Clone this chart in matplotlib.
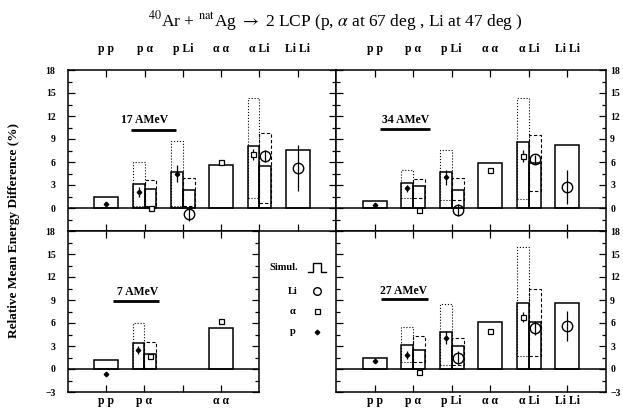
import numpy as np
import matplotlib.pyplot as plt
from matplotlib.ticker import MultipleLocator, FixedLocator

nan = np.nan
plt.rcParams['font.family'] = ['Liberation Serif', 'DejaVu Serif']
plt.rcParams['mathtext.fontset'] = 'stix'

categories = ["p p", "p α", "p Li", "α α", "α Li", "Li Li"]
first_particle = ["p", "p", "p", "α", "α", "Li"]
second_particle = ["p", "α", "Li", "α", "Li", "Li"]
cat_pos = [1, 2, 3, 4, 5, 6]

# ---- 17 AMeV ----
e17_sim_left = [1.47, 3.13, 4.74, 5.60, 8.08, 7.56]
e17_sim_right = [nan, 2.43, 2.35, nan, 5.48, nan]
e17_dot_lo = [nan, 0.2, 0.2, nan, 1.26, nan]
e17_dot_hi = [nan, 5.96, 8.74, nan, 14.4, nan]
e17_dash_lo = [nan, 0.2, 0.2, nan, 0.7, nan]
e17_dash_hi = [nan, 3.65, 3.95, nan, 9.74, nan]
e17_exp_left = [0.5, 2.1, 4.5, 5.96, 7.0, 5.17]
e17_err_left = [0.3, 0.6, 1.1, 0.2, 0.7, 3.0]
e17_exp_right = [nan, 0.0, -0.8, nan, 6.78, nan]
e17_err_right = [nan, 0.2, 0.9, nan, 0.8, nan]

# ---- 34 AMeV ----
e34_sim_left = [0.96, 3.22, 4.74, 5.90, 8.56, 8.20]
e34_sim_right = [nan, 2.87, 2.35, nan, 5.90, nan]
e34_dot_lo = [nan, 1.35, 1.04, nan, 1.13, nan]
e34_dot_hi = [nan, 4.96, 7.56, nan, 14.4, nan]
e34_dash_lo = [nan, 1.35, 1.04, nan, 2.2, nan]
e34_dash_hi = [nan, 3.74, 3.95, nan, 9.5, nan]
e34_exp_left = [0.4, 2.56, 4.0, 4.96, 6.78, 2.7]
e34_err_left = [0.3, 0.5, 1.0, 0.2, 0.8, 2.2]
e34_exp_right = [nan, -0.2, -0.26, nan, 6.35, nan]
e34_err_right = [nan, 0.2, 0.8, nan, 0.6, nan]

# ---- 7 AMeV ----
e7_sim_left = [1.2, 3.37, nan, 5.3, nan, nan]
e7_sim_right = [nan, 1.94, nan, nan, nan, nan]
e7_dot_lo = [nan, 0.1, nan, nan, nan, nan]
e7_dot_hi = [nan, 6.05, nan, nan, nan, nan]
e7_dash_lo = [nan, 0.1, nan, nan, nan, nan]
e7_dash_hi = [nan, 3.54, nan, nan, nan, nan]
e7_exp_left = [-0.65, 2.46, nan, 6.26, nan, nan]
e7_err_left = [0.3, 0.5, nan, 0.2, nan, nan]
e7_exp_right = [nan, 1.64, nan, nan, nan, nan]
e7_err_right = [nan, 0.3, nan, nan, nan, nan]

# ---- 27 AMeV ----
e27_sim_left = [1.42, 3.1, 4.88, 6.13, 8.63, 8.63]
e27_sim_right = [nan, 2.46, 2.94, nan, 6.18, nan]
e27_dot_lo = [nan, 0.86, 0.56, nan, 1.65, nan]
e27_dot_hi = [nan, 5.5, 8.5, nan, 15.85, nan]
e27_dash_lo = [nan, 0.86, 0.56, nan, 1.65, nan]
e27_dash_hi = [nan, 4.3, 4.1, nan, 10.45, nan]
e27_exp_left = [1.08, 1.8, 4.1, 4.96, 6.78, 5.6]
e27_err_left = [0.3, 0.5, 0.8, 0.2, 0.6, 2.0]
e27_exp_right = [nan, -0.43, 1.5, nan, 5.3, nan]
e27_err_right = [nan, 0.2, 0.9, nan, 0.9, nan]

energy_labels = ["17 AMeV", "34 AMeV", "7 AMeV", "27 AMeV"]

marker_style = {
    "p": dict(marker='D', ms=2.3, mfc='black', mec='black'),
    "α": dict(marker='s', ms=3.6, mfc='white', mec='black', mew=0.9),
    "Li": dict(marker='o', ms=7.5, mfc='none', mec='black', mew=1.0),
}

fig = plt.figure(figsize=(6.23, 4.08), dpi=100)
W, H = 623.0, 408.0


def add_ax(x0, y0, x1, y1):
    return fig.add_axes([x0 / W, 1 - y1 / H, (x1 - x0) / W, (y1 - y0) / H])


ax_tl = add_ax(68, 70, 336, 231)
ax_tr = add_ax(336, 70, 606, 231)
ax_bl = add_ax(68, 231, 259, 392)
ax_br = add_ax(336, 231, 606, 392)


def draw_panel(ax, xmax, sim_l, sim_r, dlo, dhi, shlo, shhi, exl, erl, exr, err):
    w = 0.31
    for i, c in enumerate(cat_pos):
        if c > xmax - 0.5:
            continue
        single = first_particle[i] == second_particle[i]
        if single:
            if not np.isnan(sim_l[i]):
                ax.bar(c, sim_l[i], width=2 * w, align='center', fill=False,
                       edgecolor='black', linewidth=1.1, zorder=3)
                ax.errorbar(c, exl[i], yerr=erl[i], color='black', lw=0.9,
                            ls='none', capsize=0, zorder=5, **marker_style[first_particle[i]])
        else:
            if np.isnan(sim_l[i]):
                continue
            ax.bar(c - w, dhi[i] - dlo[i], width=w, bottom=dlo[i], align='edge',
                   fill=False, edgecolor='black', linewidth=0.8, linestyle=':', zorder=2)
            ax.bar(c, shhi[i] - shlo[i], width=w, bottom=shlo[i], align='edge',
                   fill=False, edgecolor='black', linewidth=0.8, linestyle=(0, (3, 2)), zorder=2)
            ax.bar(c - w, sim_l[i], width=w, align='edge', fill=False,
                   edgecolor='black', linewidth=1.1, zorder=3)
            ax.bar(c, sim_r[i], width=w, align='edge', fill=False,
                   edgecolor='black', linewidth=1.1, zorder=3)
            ax.errorbar(c - w / 2, exl[i], yerr=erl[i], color='black', lw=0.9,
                        ls='none', capsize=0, zorder=5, **marker_style[first_particle[i]])
            ax.errorbar(c + w / 2, exr[i], yerr=err[i], color='black', lw=0.9,
                        ls='none', capsize=0, zorder=5, **marker_style[second_particle[i]])
    ax.axhline(0, color='black', lw=1.1, zorder=4)
    ax.set_xlim(0, xmax)
    ax.set_ylim(-3, 18)
    ax.yaxis.set_major_locator(MultipleLocator(3))
    ax.yaxis.set_minor_locator(MultipleLocator(1.5))
    ticks = [c for c in cat_pos if c < xmax]
    ax.xaxis.set_major_locator(FixedLocator(ticks))
    ax.tick_params(axis='both', which='both', direction='in', top=True, bottom=True,
                   left=True, right=True, width=0.9)
    ax.tick_params(axis='y', which='major', length=5, labelsize=7)
    ax.tick_params(axis='y', which='minor', length=3)
    ax.tick_params(axis='x', which='major', length=5, labelsize=8.5)
    for s in ax.spines.values():
        s.set_linewidth(1.1)


draw_panel(ax_tl, 7, e17_sim_left, e17_sim_right, e17_dot_lo, e17_dot_hi,
           e17_dash_lo, e17_dash_hi, e17_exp_left, e17_err_left, e17_exp_right, e17_err_right)
draw_panel(ax_tr, 7, e34_sim_left, e34_sim_right, e34_dot_lo, e34_dot_hi,
           e34_dash_lo, e34_dash_hi, e34_exp_left, e34_err_left, e34_exp_right, e34_err_right)
draw_panel(ax_bl, 5, e7_sim_left, e7_sim_right, e7_dot_lo, e7_dot_hi,
           e7_dash_lo, e7_dash_hi, e7_exp_left, e7_err_left, e7_exp_right, e7_err_right)
draw_panel(ax_br, 7, e27_sim_left, e27_sim_right, e27_dot_lo, e27_dot_hi,
           e27_dash_lo, e27_dash_hi, e27_exp_left, e27_err_left, e27_exp_right, e27_err_right)

# y tick label sides
for ax in (ax_tl, ax_bl):
    ax.tick_params(axis='y', labelleft=True, labelright=False, pad=9)
for ax in (ax_tr, ax_br):
    ax.tick_params(axis='y', labelleft=False, labelright=True, pad=3)
yt = [-3, 0, 3, 6, 9, 12, 15, 18]
for ax in (ax_bl, ax_br):
    ax.set_yticks(yt)
    ax.set_yticklabels(['\u22123', '0', '3', '6', '9', '12', '15', '18'], fontweight='bold')
for ax in (ax_tl, ax_tr):
    ax.set_yticks(yt)
    ax.set_yticklabels(['', '0', '3', '6', '9', '12', '15', '18'], fontweight='bold')

# x category labels
for ax in (ax_tl, ax_tr):
    ax.tick_params(axis='x', labeltop=True, labelbottom=False, pad=11)
    ax.set_xticklabels(categories, fontweight='bold')
ax_br.tick_params(axis='x', labeltop=False, labelbottom=True, pad=2)
ax_br.set_xticklabels(categories, fontweight='bold')
ax_bl.tick_params(axis='x', labeltop=False, labelbottom=True, pad=2)
ax_bl.set_xticklabels(["p p", "p α", "", "α α"], fontweight='bold')

# energy labels with underline
label_pos = [(2.0, 11.5, 1.64, 2.83, 10.2), (1.8, 11.5, 1.15, 2.43, 10.3),
             (1.82, 10.0, 1.17, 2.38, 8.9), (1.75, 10.2, 1.17, 2.39, 9.07)]
for ax, lab, (tx, ty, u0, u1, uy) in zip((ax_tl, ax_tr, ax_bl, ax_br), energy_labels, label_pos):
    ax.text(tx, ty, lab, ha='center', va='center', fontsize=8.5, fontweight='bold')
    ax.plot([u0, u1], [uy, uy], color='black', lw=2.0, solid_capstyle='butt')

# legend in pixel coords
lg = fig.add_axes([0, 0, 1, 1], facecolor='none')
lg.set_xlim(0, W)
lg.set_ylim(H, 0)
lg.axis('off')
lg.text(284, 267, "Simul.", ha='center', va='center', fontsize=7.5, fontweight='bold')
lg.plot([308, 312.5, 312.5, 320.5, 320.5, 326], [271.5, 271.5, 262.5, 262.5, 271.5, 271.5],
        color='black', lw=1.0)
for py, name in ((291, "Li"), (311, "α"), (331.5, "p")):
    lg.text(292.5, py, name, ha='center', va='center', fontsize=7.5, fontweight='bold')
lg.plot([317], [291], **dict(marker_style["Li"], ms=5.5))
lg.plot([317], [311], **marker_style["α"])
lg.plot([317], [332], **marker_style["p"])

fig.text(335 / W, 1 - 21 / H,
         r"$^{40}$Ar + $^{\rm nat}$Ag $\rightarrow$ 2 LCP (p, $\alpha$ at 67 deg , Li at 47 deg )",
         ha='center', va='center', fontsize=12.5)
fig.text(14 / W, 1 - 230 / H, "Relative Mean Energy Difference (%)", rotation=90,
         ha='center', va='center', fontsize=9.5, fontweight='bold')

fig.savefig("out.png", dpi=100)
